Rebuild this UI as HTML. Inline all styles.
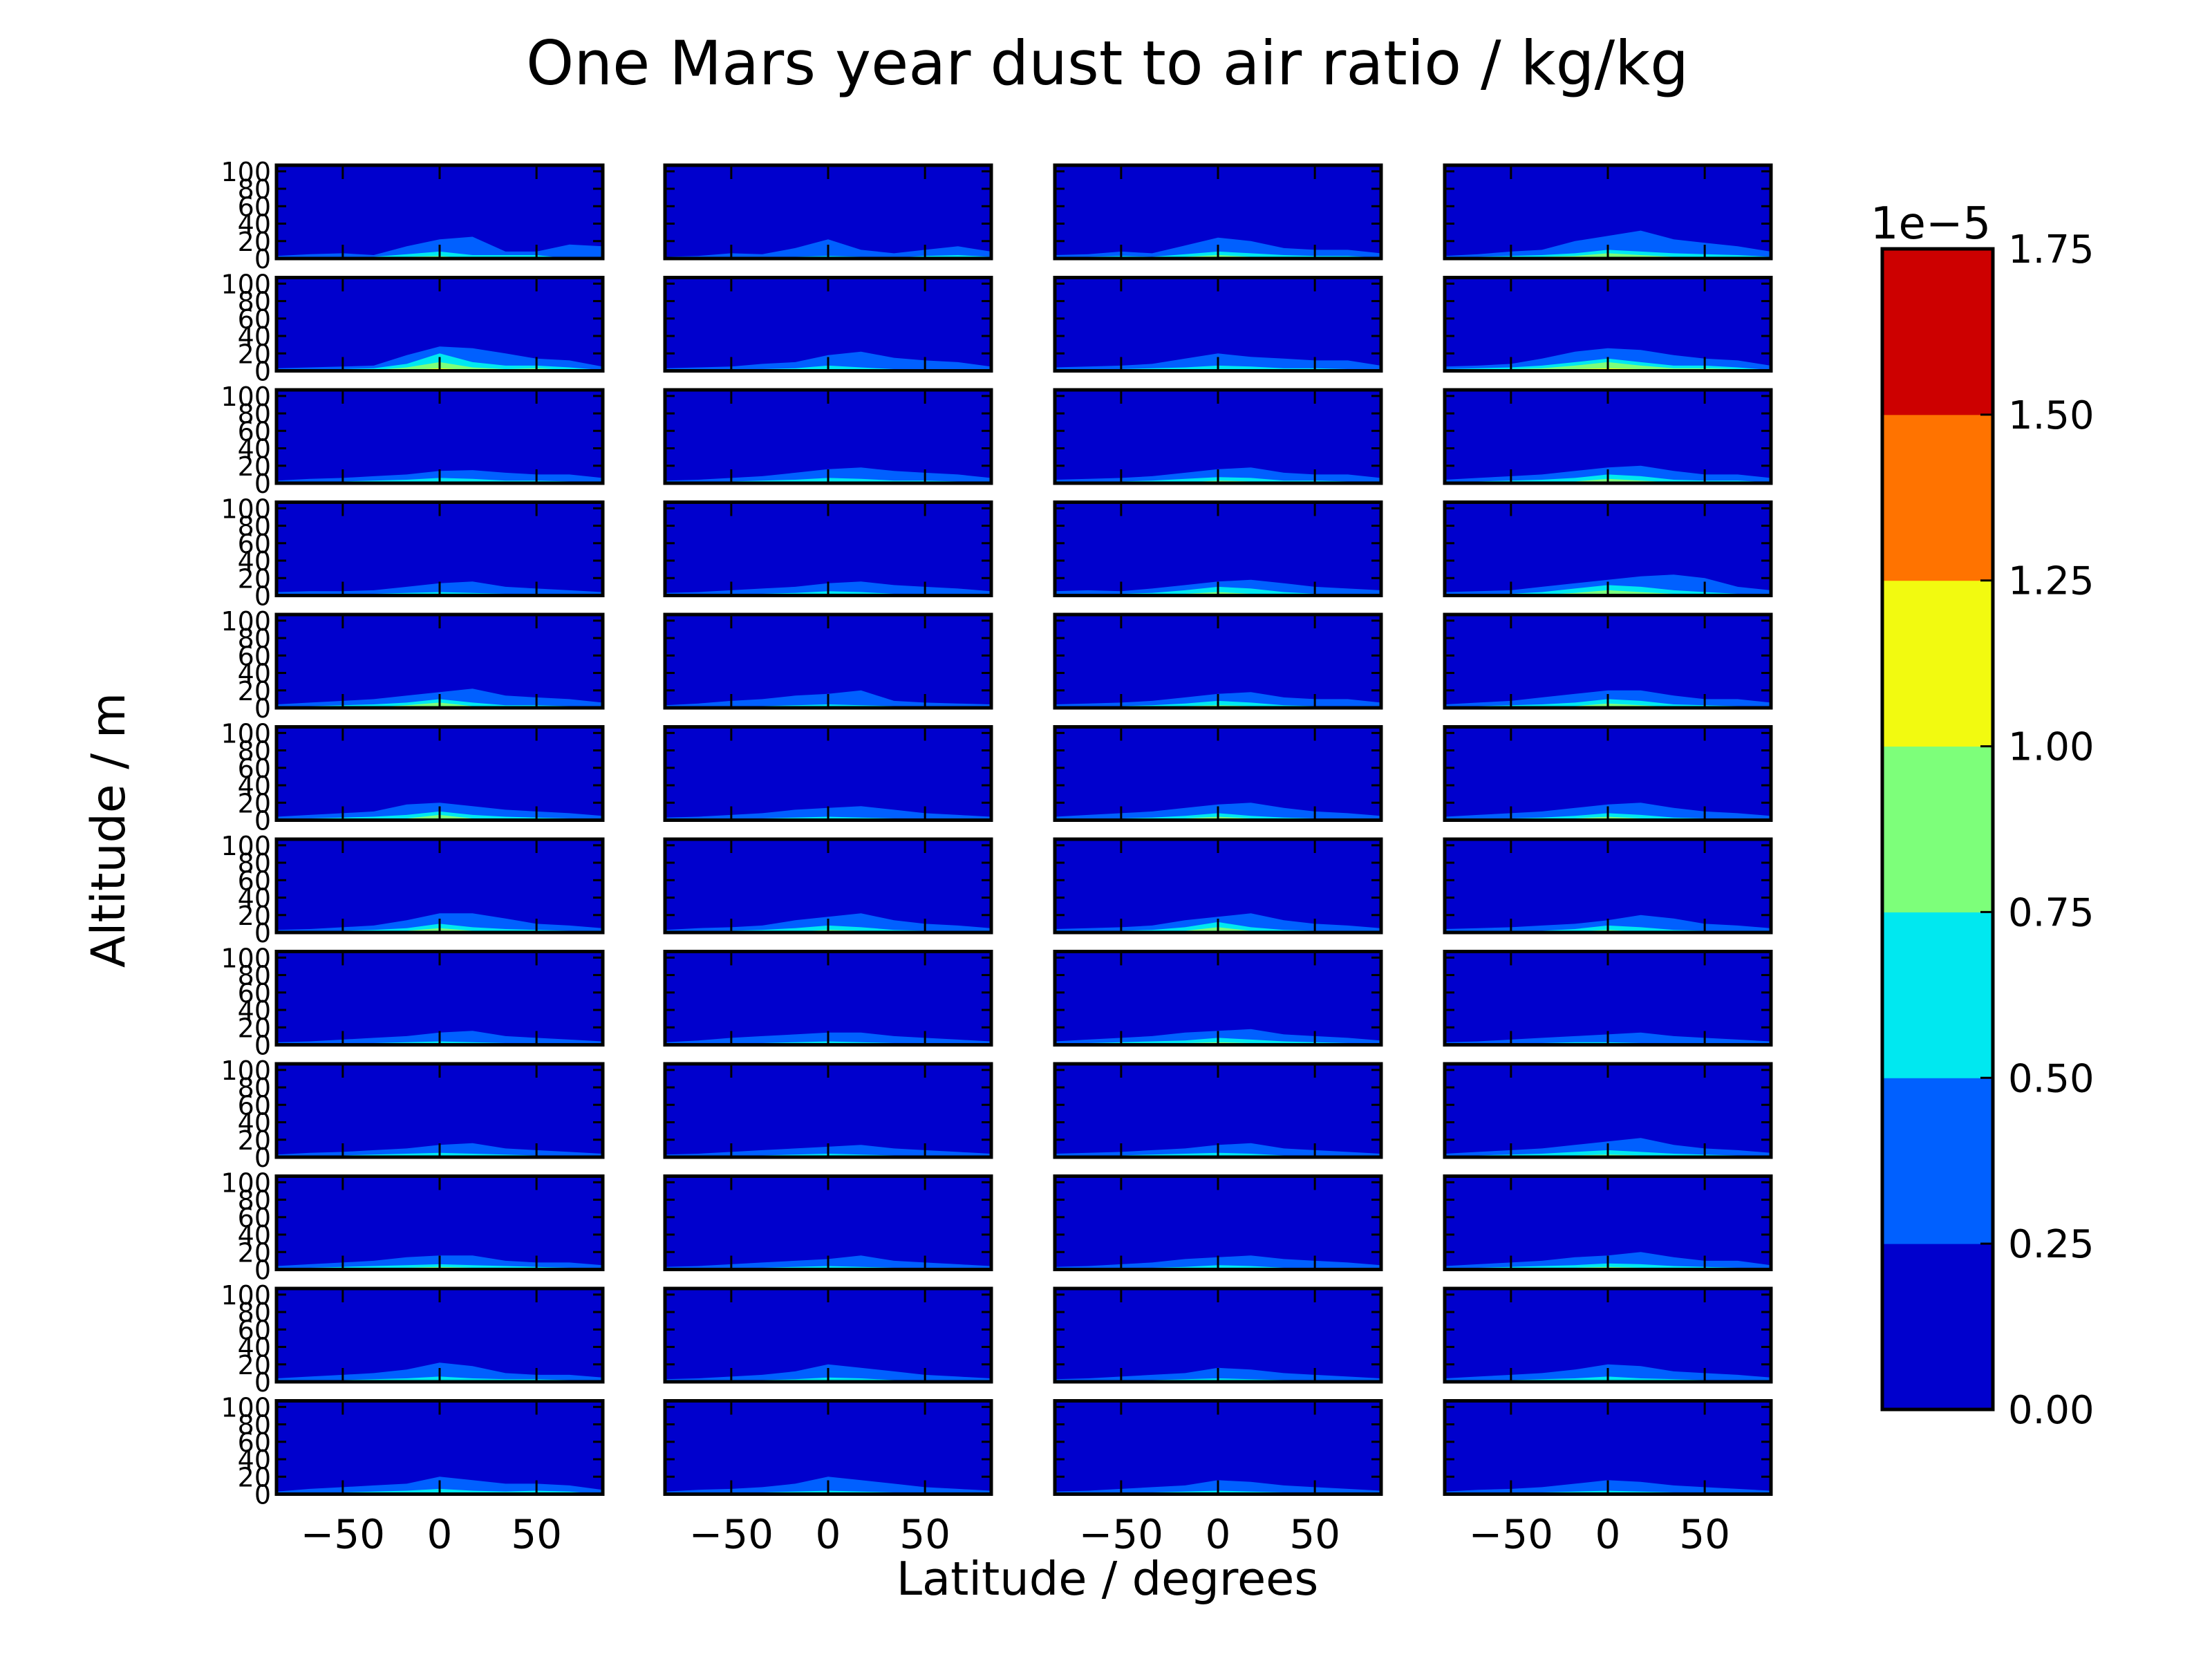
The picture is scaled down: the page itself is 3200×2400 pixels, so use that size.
<!DOCTYPE html>
<html><head><meta charset="utf-8">
<style>
html,body{margin:0;padding:0;background:#fff;}
svg{display:block;font-family:"DejaVu Sans","Liberation Sans",sans-serif;}
</style></head>
<body>
<svg id="chart" width="3200" height="2400" viewBox="0 0 3200 2400" xmlns="http://www.w3.org/2000/svg">
<rect width="3200" height="2400" fill="#fff"/>
<text x="1602" y="122" font-size="88" text-anchor="middle">One Mars year dust to air ratio / kg/kg</text>
<text x="1602" y="2307" font-size="67" text-anchor="middle">Latitude / degrees</text>
<text x="0" y="0" font-size="68" text-anchor="middle" transform="translate(180,1201) rotate(-90)">Altitude / m</text>
<g id="panels"></g>
<g id="cbar"></g>
</svg>
<script>
const lats = [-84,-67,-50,-34,-17,0,17,34,50,67,84];
const xTicks = [-50,0,50];
const xTickLabels = ["\u221250","0","50"];
const yTicks = [0,20,40,60,80,100];
const yTickLabels = ["0","20","40","60","80","100"];
const levels = [0,0.25,0.5,0.75,1.0,1.25,1.5,1.75];
const levelLabels = ["0.00","0.25","0.50","0.75","1.00","1.25","1.50","1.75"];
const level1 = [
[3,5,6,4,14,22,25,8,8,16,14],[2,3,6,5,12,22,10,6,10,14,8],[4,5,8,6,15,24,20,12,10,10,6],[3,5,8,10,20,26,32,22,18,14,8],
[3,4,5,6,18,28,26,20,14,12,5],[3,4,5,8,10,18,22,15,12,10,5],[4,5,6,8,14,20,16,14,12,12,6],[5,6,8,14,22,26,24,18,14,12,6],
[3,5,6,8,10,14,15,12,10,10,6],[3,4,6,8,12,16,18,14,12,10,6],[4,5,6,8,12,16,18,12,10,10,6],[4,6,8,10,14,18,20,14,10,10,6],
[4,5,5,6,10,14,16,10,8,6,4],[3,4,6,8,10,14,16,12,10,8,5],[5,6,5,8,12,16,18,14,10,8,6],[4,5,6,10,14,18,22,24,20,10,6],
[4,6,8,10,14,18,22,14,12,10,6],[3,5,8,10,14,16,20,8,6,5,4],[4,5,6,8,12,16,18,12,10,10,6],[4,6,8,12,16,20,20,14,10,10,6],
[4,6,8,10,18,20,16,12,10,8,5],[3,4,6,8,12,14,16,12,8,6,4],[4,6,8,10,14,18,20,14,10,8,5],[4,6,8,10,14,18,20,14,10,8,5],
[3,4,6,8,14,22,22,16,10,8,5],[3,5,6,8,14,18,22,14,10,8,5],[4,5,6,8,14,18,22,14,10,8,5],[4,5,6,8,10,14,20,16,10,8,5],
[3,4,6,8,10,14,16,10,8,6,4],[3,5,8,10,12,14,14,10,8,6,4],[4,6,8,10,14,16,18,12,10,8,5],[3,4,6,8,10,12,14,10,8,6,4],
[3,5,6,8,10,14,16,10,8,6,4],[3,4,6,8,10,12,14,10,8,6,4],[4,5,6,8,10,14,16,10,8,6,4],[4,6,8,10,14,18,22,14,10,8,5],
[4,6,8,10,14,16,16,10,8,8,5],[3,4,6,8,10,12,16,10,8,6,4],[3,4,6,8,12,14,16,12,10,8,5],[4,6,8,10,14,16,20,14,10,10,5],
[4,6,8,10,14,22,18,10,8,8,5],[3,4,6,8,12,20,16,12,8,6,4],[3,4,6,8,10,16,14,10,8,6,4],[4,6,8,10,14,20,18,12,10,8,5],
[3,6,8,10,12,20,16,12,12,10,5],[3,5,6,8,12,20,16,12,8,6,4],[3,4,6,8,10,16,14,10,8,6,4],[3,5,6,8,12,16,14,10,8,6,4]
];
const level2 = [
[1,2,1,2,5,8,4,4,4,0,0],[0,1,1,1,2,3,2,1,3,4,2],[1,2,3,2,5,8,6,4,3,3,1],[1,2,3,4,6,10,8,6,5,4,2],
[1,2,2,3,8,20,10,6,6,4,1],[1,1,2,2,3,6,4,2,2,2,1],[1,2,2,3,4,6,5,3,3,2,1],[2,3,4,6,10,14,10,6,6,4,1],
[1,2,2,3,4,6,5,3,3,2,1],[1,1,2,3,4,6,5,3,3,2,1],[1,2,2,3,5,7,6,3,3,2,1],[1,2,3,4,6,10,8,4,3,3,1],
[0,1,1,2,3,4,3,2,1,1,0],[1,1,2,2,3,5,4,2,2,1,0],[1,2,2,3,6,10,8,4,2,1,1],[1,2,2,4,8,12,10,6,4,2,1],
[1,2,3,4,6,10,6,3,3,2,1],[1,1,2,2,3,4,3,2,1,1,0],[1,2,2,3,5,8,6,3,2,2,1],[1,2,3,4,6,10,8,4,3,2,1],
[1,2,3,4,6,10,6,4,3,2,1],[0,1,1,2,3,4,3,2,1,1,0],[1,1,2,3,5,8,5,3,2,1,0],[1,1,2,3,5,8,6,3,2,1,0],
[1,1,2,3,5,10,6,4,3,2,1],[1,1,2,3,5,8,6,3,2,1,0],[1,1,2,3,6,12,6,3,2,1,0],[0,1,1,2,4,8,6,3,2,1,0],
[0,1,1,2,3,4,3,2,2,1,0],[1,1,2,2,3,4,3,2,1,1,0],[1,2,3,4,5,8,6,4,3,2,1],[0,1,1,2,3,3,2,1,1,0,0],
[1,1,2,3,4,5,4,3,2,1,0],[0,1,1,2,3,4,3,2,1,1,0],[1,1,2,3,4,5,4,2,2,1,0],[1,2,3,4,6,8,6,4,3,2,1],
[1,2,3,4,5,6,5,4,3,2,1],[0,1,1,2,3,4,3,2,1,1,0],[1,1,2,2,3,5,4,2,2,1,0],[1,2,3,4,5,7,6,4,3,2,1],
[1,1,2,3,4,6,4,3,3,2,0],[0,1,1,2,3,5,4,2,1,1,0],[0,1,1,2,3,4,3,2,1,1,0],[1,1,2,3,4,6,4,3,2,2,0],
[1,2,2,3,4,6,4,3,4,3,0],[0,1,1,2,3,4,3,2,2,1,0],[0,1,1,2,3,4,3,2,2,1,0],[0,1,2,2,3,4,3,2,1,1,0]
];
const level3 = [
[0,1,0,0,2,3,0,0,0,0,0],[0,0,0,0,0,0,0,0,0,0,0],[0,0,1,0,2,4,2,0,0,0,0],[0,1,1,2,3,6,4,2,2,1,0],
[0,1,1,1,4,10,4,2,3,1,0],[0,0,0,0,0,2,0,0,0,0,0],[0,0,0,0,1,2,1,0,0,0,0],[1,1,2,3,6,10,6,3,3,2,0],
[0,0,0,0,1,2,1,0,0,0,0],[0,0,0,0,1,2,1,0,0,0,0],[0,0,0,0,1,3,2,0,0,0,0],[0,0,1,1,2,5,3,1,0,0,0],
[0,0,0,0,0,1,0,0,0,0,0],[0,0,0,0,0,1,0,0,0,0,0],[0,0,0,0,2,4,2,0,0,0,0],[0,0,0,1,3,6,4,2,1,0,0],
[0,0,1,1,3,6,2,0,0,0,0],[0,0,0,0,0,0,0,0,0,0,0],[0,0,0,0,2,3,2,0,0,0,0],[0,0,0,1,2,5,3,1,0,0,0],
[0,0,1,1,2,6,2,0,0,0,0],[0,0,0,0,0,1,0,0,0,0,0],[0,0,0,0,2,4,2,0,0,0,0],[0,0,0,0,2,4,2,0,0,0,0],
[0,0,0,0,2,5,2,0,0,0,0],[0,0,0,0,1,3,2,0,0,0,0],[0,0,0,0,2,6,2,0,0,0,0],[0,0,0,0,1,3,1,0,0,0,0],
[0,0,0,0,0,1,0,0,0,0,0],[0,0,0,0,0,0,0,0,0,0,0],[0,0,1,1,2,3,2,1,1,0,0],[0,0,0,0,0,0,0,0,0,0,0],
[0,0,0,0,1,1,1,0,0,0,0],[0,0,0,0,0,1,0,0,0,0,0],[0,0,0,0,1,1,0,0,0,0,0],[0,0,1,1,2,3,2,1,0,0,0],
[0,0,1,1,2,3,2,1,1,0,0],[0,0,0,0,0,1,0,0,0,0,0],[0,0,0,0,1,1,0,0,0,0,0],[0,0,1,1,2,3,2,1,0,0,0],
[0,0,0,1,1,2,1,0,1,0,0],[0,0,0,0,1,1,0,0,0,0,0],[0,0,0,0,0,1,0,0,0,0,0],[0,0,0,1,1,2,1,0,0,0,0],
[0,0,0,1,1,2,1,0,1,0,0],[0,0,0,0,0,1,0,0,0,0,0],[0,0,0,0,0,1,0,0,0,0,0],[0,0,0,0,1,1,0,0,0,0,0]
];
const level4 = [
[0,0,0,0,0,0,0,0,0,0,0],[0,0,0,0,0,0,0,0,0,0,0],[0,0,0,0,0,1,0,0,0,0,0],[0,0,0,0,1,2,1,0,0,0,0],
[0,0,0,0,1,3,1,0,0,0,0],[0,0,0,0,0,0,0,0,0,0,0],[0,0,0,0,0,0,0,0,0,0,0],[0,0,0,1,2,3,2,0,0,0,0],
[0,0,0,0,0,0,0,0,0,0,0],[0,0,0,0,0,0,0,0,0,0,0],[0,0,0,0,0,0,0,0,0,0,0],[0,0,0,0,0,1,0,0,0,0,0],
[0,0,0,0,0,0,0,0,0,0,0],[0,0,0,0,0,0,0,0,0,0,0],[0,0,0,0,0,0,0,0,0,0,0],[0,0,0,0,0,1,0,0,0,0,0],
[0,0,0,0,1,2,0,0,0,0,0],[0,0,0,0,0,0,0,0,0,0,0],[0,0,0,0,0,0,0,0,0,0,0],[0,0,0,0,0,1,0,0,0,0,0],
[0,0,0,0,0,1,0,0,0,0,0],[0,0,0,0,0,0,0,0,0,0,0],[0,0,0,0,0,0,0,0,0,0,0],[0,0,0,0,0,0,0,0,0,0,0],
[0,0,0,0,0,1,0,0,0,0,0],[0,0,0,0,0,0,0,0,0,0,0],[0,0,0,0,0,1,0,0,0,0,0],[0,0,0,0,0,0,0,0,0,0,0],
[0,0,0,0,0,0,0,0,0,0,0],[0,0,0,0,0,0,0,0,0,0,0],[0,0,0,0,0,0,0,0,0,0,0],[0,0,0,0,0,0,0,0,0,0,0],
[0,0,0,0,0,0,0,0,0,0,0],[0,0,0,0,0,0,0,0,0,0,0],[0,0,0,0,0,0,0,0,0,0,0],[0,0,0,0,0,0,0,0,0,0,0],
[0,0,0,0,0,0,0,0,0,0,0],[0,0,0,0,0,0,0,0,0,0,0],[0,0,0,0,0,0,0,0,0,0,0],[0,0,0,0,0,0,0,0,0,0,0],
[0,0,0,0,0,0,0,0,0,0,0],[0,0,0,0,0,0,0,0,0,0,0],[0,0,0,0,0,0,0,0,0,0,0],[0,0,0,0,0,0,0,0,0,0,0],
[0,0,0,0,0,0,0,0,0,0,0],[0,0,0,0,0,0,0,0,0,0,0],[0,0,0,0,0,0,0,0,0,0,0],[0,0,0,0,0,0,0,0,0,0,0]
];
const levelColors = ["#0000cd","#0060ff","#00e8f0","#7dff7a","#f2fa10","#ff7300","#cd0000"];

const NS = "http://www.w3.org/2000/svg";
function mk(tag, attrs, parent){const e=document.createElementNS(NS,tag);for(const k in attrs)e.setAttribute(k,attrs[k]);parent.appendChild(e);return e;}
const colX=[400,962,1526,2090], PW=472, rowY0=239, rowPitch=162.5, PH=135;
const XMIN=-84.2, XMAX=84.2, YMIN=0, YMAX=107;
const panelsG=document.getElementById('panels');
const layers=[level1,level2,level3,level4];
for(let r=0;r<12;r++){for(let c=0;c<4;c++){
  const idx=r*4+c, x0=colX[c], y0=rowY0+r*rowPitch;
  const sx=v=>x0+(v-XMIN)/(XMAX-XMIN)*PW;
  const sy=v=>y0+PH-(v-YMIN)/(YMAX-YMIN)*PH;
  const g=mk('g',{},panelsG);
  
  
  const cid='clip'+idx;
  const cp=mk('clipPath',{id:cid},g); mk('rect',{x:x0,y:y0,width:PW,height:PH},cp);
  const bg=mk('rect',{x:x0,y:y0,width:PW,height:PH,fill:levelColors[0]},g);
  
  
  const cg=mk('g',{'clip-path':'url(#'+cid+')'},g);
  layers.forEach((L,li)=>{
    const hs=L[idx]; if(Math.max(...hs)<=0) return;
    let pts=[[sx(XMIN),sy(0)]];
    hs.forEach((h,i)=>pts.push([sx(lats[i]),sy(h)]));
    pts.push([sx(XMAX),sy(hs[hs.length-1])],[sx(XMAX),sy(0)]);
    const p=mk('polygon',{points:pts.map(q=>q[0].toFixed(1)+','+q[1].toFixed(1)).join(' '),fill:levelColors[li+1]},cg);
    
    
  });
  xTicks.forEach(t=>{const X=sx(t);
    mk('line',{x1:X,x2:X,y1:y0,y2:y0+20,stroke:'#000','stroke-width':3},g);
    mk('line',{x1:X,x2:X,y1:y0+PH,y2:y0+PH-20,stroke:'#000','stroke-width':3},g);});
  yTicks.forEach((t,i)=>{const Y=sy(t);
    mk('line',{x1:x0,x2:x0+14,y1:Y,y2:Y,stroke:'#000','stroke-width':3},g);
    mk('line',{x1:x0+PW,x2:x0+PW-14,y1:Y,y2:Y,stroke:'#000','stroke-width':3},g);
    if(c===0){const tl=mk('text',{x:x0-8,y:Y+14,'font-size':38,'text-anchor':'end'},g);tl.textContent=yTickLabels[i];
      
      }
  });
  const fr=mk('rect',{x:x0,y:y0,width:PW,height:PH,fill:'none',stroke:'#000','stroke-width':5},g);
  
  
  if(r===11){xTicks.forEach((t,i)=>{const tl=mk('text',{x:sx(t),y:y0+PH+78,'font-size':58,'text-anchor':'middle'},g);tl.textContent=xTickLabels[i];
    
    });}
}}
// colorbar
const cb=document.getElementById('cbar');
const cbX=2723, cbW=160, cbTop=360, cbBot=2039;
const cy=v=>cbBot-(v-levels[0])/(levels[levels.length-1]-levels[0])*(cbBot-cbTop);
for(let i=0;i<levels.length-1;i++){
  const rct=mk('rect',{x:cbX,y:cy(levels[i+1]),width:cbW,height:cy(levels[i])-cy(levels[i+1])+0.5,fill:levelColors[i]},cb);
  
  
}
levels.forEach((v,i)=>{const Y=cy(v);
  mk('line',{x1:cbX+cbW-18,x2:cbX+cbW,y1:Y,y2:Y,stroke:'#000','stroke-width':3},cb);
  const t=mk('text',{x:2905,y:Y+20,'font-size':56},cb);t.textContent=levelLabels[i];
  
  });
mk('rect',{x:cbX,y:cbTop,width:cbW,height:cbBot-cbTop,fill:'none',stroke:'#000','stroke-width':5},cb);
const ex=mk('text',{x:2793,y:345,'font-size':64,'text-anchor':'middle'},cb);ex.textContent='1e\u22125';


</script>
</body></html>
